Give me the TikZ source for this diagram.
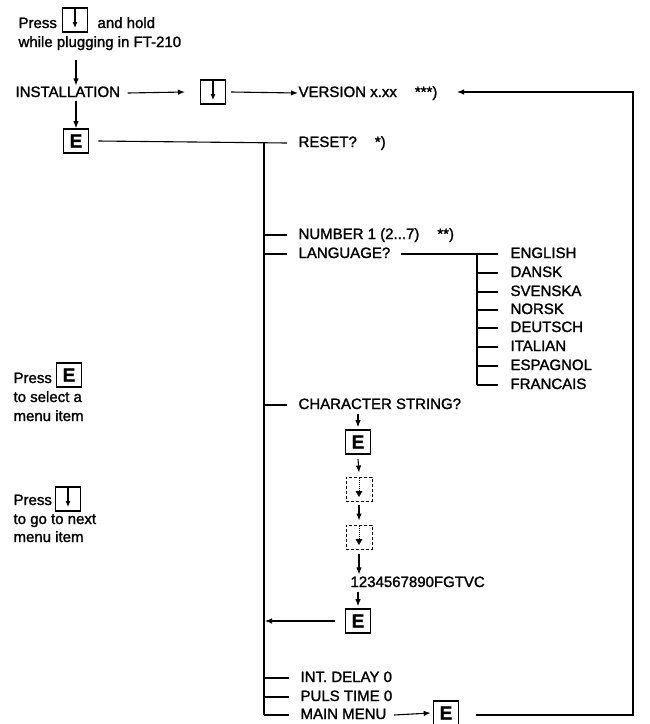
\documentclass[tikz,border=0pt]{standalone}
\usepackage{fontspec}
\setmainfont{Liberation Sans}[FakeBold=1.5]
\usetikzlibrary{arrows.meta}
\begin{document}
\begin{tikzpicture}[x=1pt,y=-1pt,line width=1.1pt,
  lbl/.style={anchor=west,inner sep=0pt,font=\fontsize{15}{18}\selectfont,text height=11pt,text depth=3pt},
  ekey/.style={draw,line width=1.6pt,minimum width=25pt,minimum height=24pt,inner sep=0pt,font=\fontsize{19}{19}\selectfont\bfseries},
  akey/.style={draw,line width=1.1pt,minimum width=25pt,minimum height=24pt,inner sep=0pt,
    path picture={\draw[solid,line width=1.1pt,-{Latex[length=6pt,width=5pt]}] ([yshift=-1pt]path picture bounding box.north) -- ([yshift=4pt]path picture bounding box.south);}},
  dkey/.style={draw,densely dashed,line width=0.9pt,minimum width=26pt,minimum height=24pt,inner sep=0pt,
    path picture={\draw[densely dotted,line width=1pt] ([yshift=-1pt]path picture bounding box.north) -- ([yshift=9pt]path picture bounding box.south);
      \fill ([yshift=4pt]path picture bounding box.south) -- ++(-3.5pt,6pt) -- ++(7pt,0) -- cycle;}},
  arr/.style={-{Latex[length=7pt,width=5.5pt]}}]
\useasboundingbox (0,0) rectangle (650,724);

% intro
\node[lbl] (press1) at (18,24) {Press};
\node[akey] (k0) at (75,20) {};
\node[lbl] (hold) at (97,24) {and hold};
\node[lbl] (plug) at (18,43) {while plugging in FT-210};
\node[lbl] (inst) at (15,93) {INSTALLATION};
\coordinate (a0s) at (76,60);
\draw[arr] (a0s) -- (inst.north -| a0s);
\node[ekey] (e1) at (76,141) {E};
\draw[arr] (inst.south -| e1) -- (e1.north);

% version row
\node[akey] (k1) at (213,92) {};
\draw[arr] (inst.east) ++(7,0) coordinate (i1) -- (k1.west -| 185,0);
\node[lbl] (ver) at (298,93) {VERSION x.xx\hspace{1.2em}***)};
\draw[arr] (k1.east) ++(5,0) -- (ver.west);

% reset row + trunk
\node[lbl] (reset) at (298,143) {RESET?\hspace{1.2em}*)};
\coordinate (t0) at (264,142);
\draw (e1.east) ++(9,0) -- (reset.west -| 287,0);
\coordinate (tEnd) at (264,715);
\draw (t0) -- (tEnd);

% menu items
\node[lbl] (num) at (298,235) {NUMBER 1 (2...7)\hspace{1.2em}**)};
\node[lbl] (lang) at (298,254) {LANGUAGE?};
\node[lbl] (chs) at (298,405) {CHARACTER STRING?};
\node[lbl] (idel) at (300,678) {INT. DELAY 0};
\node[lbl] (puls) at (300,697) {PULS TIME 0};
\node[lbl] (mm) at (300,715) {MAIN MENU};
\foreach \n in {num,lang,chs,idel,puls,mm}
  \draw (\n.west -| t0) -- ([xshift=-11pt]\n.west);

% languages
\coordinate (s0) at (477,254);
\draw ([xshift=10pt]lang.east) -- (s0);
\foreach \name/\yy in {ENGLISH/254,DANSK/273,SVENSKA/292,NORSK/310,DEUTSCH/328,ITALIAN/347,ESPAGNOL/366,FRANCAIS/385}{
  \node[lbl] (L\name) at (510,\yy) {\name};
  \draw (477,\yy) -- ([xshift=-12pt]L\name.west);
}
\draw (s0) -- (477,385);

% character string sequence
\node[ekey] (c1) at (358,442) {E};
\node[dkey] (c2) at (359,489) {};
\node[dkey] (c3) at (359,537) {};
\node[lbl] (code) at (350,583) {1234567890FGTVC};
\node[ekey] (c4) at (358,621) {E};
\draw[arr] ([yshift=-1pt]chs.south -| c1) -- ([yshift=2pt]c1.north);
\draw[arr] ([yshift=-4pt]c1.south) -- ([yshift=4pt]c2.north);
\draw[arr] ([yshift=-4pt]c2.south) -- ([yshift=4pt]c3.north);
\draw[arr] ([yshift=-5pt]c3.south) -- ([yshift=1pt]code.north -| c3);
\draw[arr] ([yshift=-1pt]code.south -| c4) -- ([yshift=2pt]c4.north);
\draw[arr] ([xshift=-10pt]c4.west) -- (c4.west -| 265,0);

% main menu
\node[ekey] (e9) at (446,713) {E};
\draw[arr] ([xshift=7pt]mm.east) -- ([xshift=-2pt]e9.west);
\coordinate (r0) at (633,715);
\coordinate (r1) at (633,92);
\draw ([xshift=17pt]e9.east |- r0) -- (r0) -- (r1) -- (460,92);
\draw[arr] (470,92) -- (457,92);

% legend
\node[lbl] (pe) at (13,379) {Press};
\node[ekey] (le) at (69,375) {E};
\node[lbl] (sel1) at (13,398) {to select a};
\node[lbl] (sel2) at (13,417) {menu item};
\node[lbl] (pa) at (13,501) {Press};
\node[akey] (la) at (68,499) {};
\node[lbl] (nx1) at (13,520) {to go to next};
\node[lbl] (nx2) at (13,538) {menu item};
\end{tikzpicture}
\end{document}
